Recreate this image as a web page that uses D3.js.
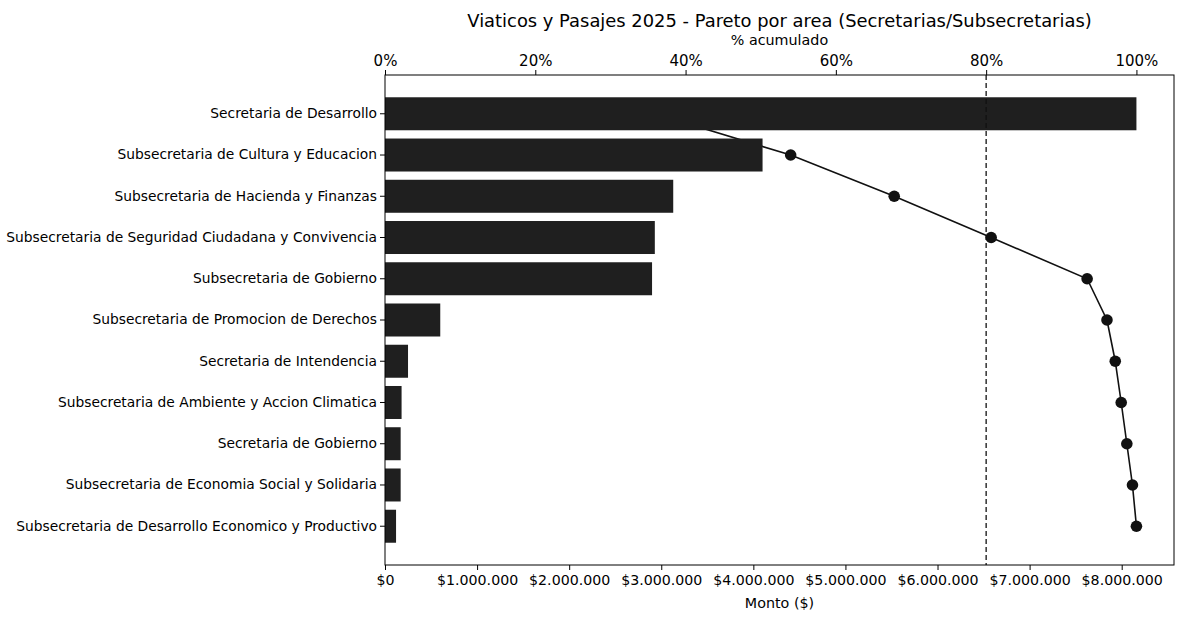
<!DOCTYPE html>
<html>
<head>
<meta charset="utf-8">
<script src="https://cdn.jsdelivr.net/npm/d3@7"></script>
<style>
  html, body { margin: 0; padding: 0; background: #fff; }
  svg { display: block; font-family: "DejaVu Sans", sans-serif; }
</style>
</head>
<body>
<svg id="chart" width="1179" height="617"></svg>
<script>
// ---- data ----
const categories = [
  "Secretaria de Desarrollo",
  "Subsecretaria de Cultura y Educacion",
  "Subsecretaria de Hacienda y Finanzas",
  "Subsecretaria de Seguridad Ciudadana y Convivencia",
  "Subsecretaria de Gobierno",
  "Subsecretaria de Promocion de Derechos",
  "Secretaria de Intendencia",
  "Subsecretaria de Ambiente y Accion Climatica",
  "Secretaria de Gobierno",
  "Subsecretaria de Economia Social y Solidaria",
  "Subsecretaria de Desarrollo Economico y Productivo"
];
const montos = [8160000, 4100000, 3130000, 2930000, 2900000, 600000, 250000, 180000, 170000, 170000, 120000];
const montoTicks = [0, 1000000, 2000000, 3000000, 4000000, 5000000, 6000000, 7000000, 8000000];
const pctTicks = [0, 20, 40, 60, 80, 100];
const umbral = 80;
const titulo = "Viaticos y Pasajes 2025 - Pareto por area (Secretarias/Subsecretarias)";

// cumulative percentage (Pareto)
const total = d3.sum(montos);
const acumulado = Array.from(d3.cumsum(montos), v => v / total * 100);

// ---- layout ----
const svg = d3.select("#chart");
const L = 385, R = 1174, T = 75, B = 565;

const x = d3.scaleLinear().domain([0, d3.max(montos) * 1.05]).range([L, R]);
const xp = d3.scaleLinear().domain([0, 105]).range([L, R]);
const y = d3.scaleBand().domain(categories).range([T, B]).paddingInner(0.2).paddingOuter(0.54);

const loc = d3.formatLocale({decimal: ",", thousands: ".", grouping: [3], currency: ["$", ""]});
const fmtMoney = loc.format("$,.0f");

// cumulative line (drawn beneath bars)
const pts = acumulado.map((p, i) => ({p: p, cat: categories[i]}));
const line = d3.line().x(d => xp(d.p)).y(d => y(d.cat) + y.bandwidth() / 2);

svg.append("path").datum(pts)
  .attr("d", line).attr("fill", "none").attr("stroke", "#111").attr("stroke-width", 1.6);
svg.append("g").selectAll("circle").data(pts).join("circle")
  .attr("cx", d => xp(d.p)).attr("cy", d => y(d.cat) + y.bandwidth() / 2)
  .attr("r", 5.8).attr("fill", "#111");

// bars
svg.append("g").selectAll("rect").data(montos).join("rect")
  .attr("x", x(0)).attr("y", (d, i) => y(categories[i]))
  .attr("width", d => x(d) - x(0)).attr("height", y.bandwidth())
  .attr("fill", "#1f1f1f");

// 80% threshold
svg.append("line")
  .attr("x1", xp(umbral)).attr("x2", xp(umbral)).attr("y1", T).attr("y2", B)
  .attr("stroke", "#111").attr("stroke-width", 1.3).attr("stroke-dasharray", "5,3");

// frame
svg.append("rect").attr("x", L).attr("y", T).attr("width", R - L).attr("height", B - T)
  .attr("fill", "none").attr("stroke", "#000").attr("stroke-width", 1);

// axes
const gx = svg.append("g").attr("transform", `translate(0,${B})`)
  .call(d3.axisBottom(x).tickValues(montoTicks).tickFormat(fmtMoney).tickSize(5).tickPadding(5));
const gt = svg.append("g").attr("transform", `translate(0,${T})`)
  .call(d3.axisTop(xp).tickValues(pctTicks).tickFormat(d => d + "%").tickSize(5).tickPadding(4));
const gy = svg.append("g").attr("transform", `translate(${L},0)`)
  .call(d3.axisLeft(y).tickSize(5).tickPadding(3));
[gx, gt, gy].forEach(g => {
  g.select(".domain").remove();
  g.selectAll("text").attr("font-family", "DejaVu Sans").attr("fill", "#000");
  g.selectAll("line").attr("stroke", "#000");
});
gx.selectAll("text").attr("font-size", "14.2px");
gt.selectAll("text").attr("font-size", "15px");
gy.selectAll("text").attr("font-size", "13.8px");

// labels
svg.append("text").attr("x", (L + R) / 2).attr("y", 27).attr("text-anchor", "middle")
  .attr("font-size", "17.9px").text(titulo);
svg.append("text").attr("x", (L + R) / 2).attr("y", 45).attr("text-anchor", "middle")
  .attr("font-size", "14.3px").text("% acumulado");
svg.append("text").attr("x", (L + R) / 2).attr("y", 608).attr("text-anchor", "middle")
  .attr("font-size", "14.3px").text("Monto ($)");
</script>
</body>
</html>
